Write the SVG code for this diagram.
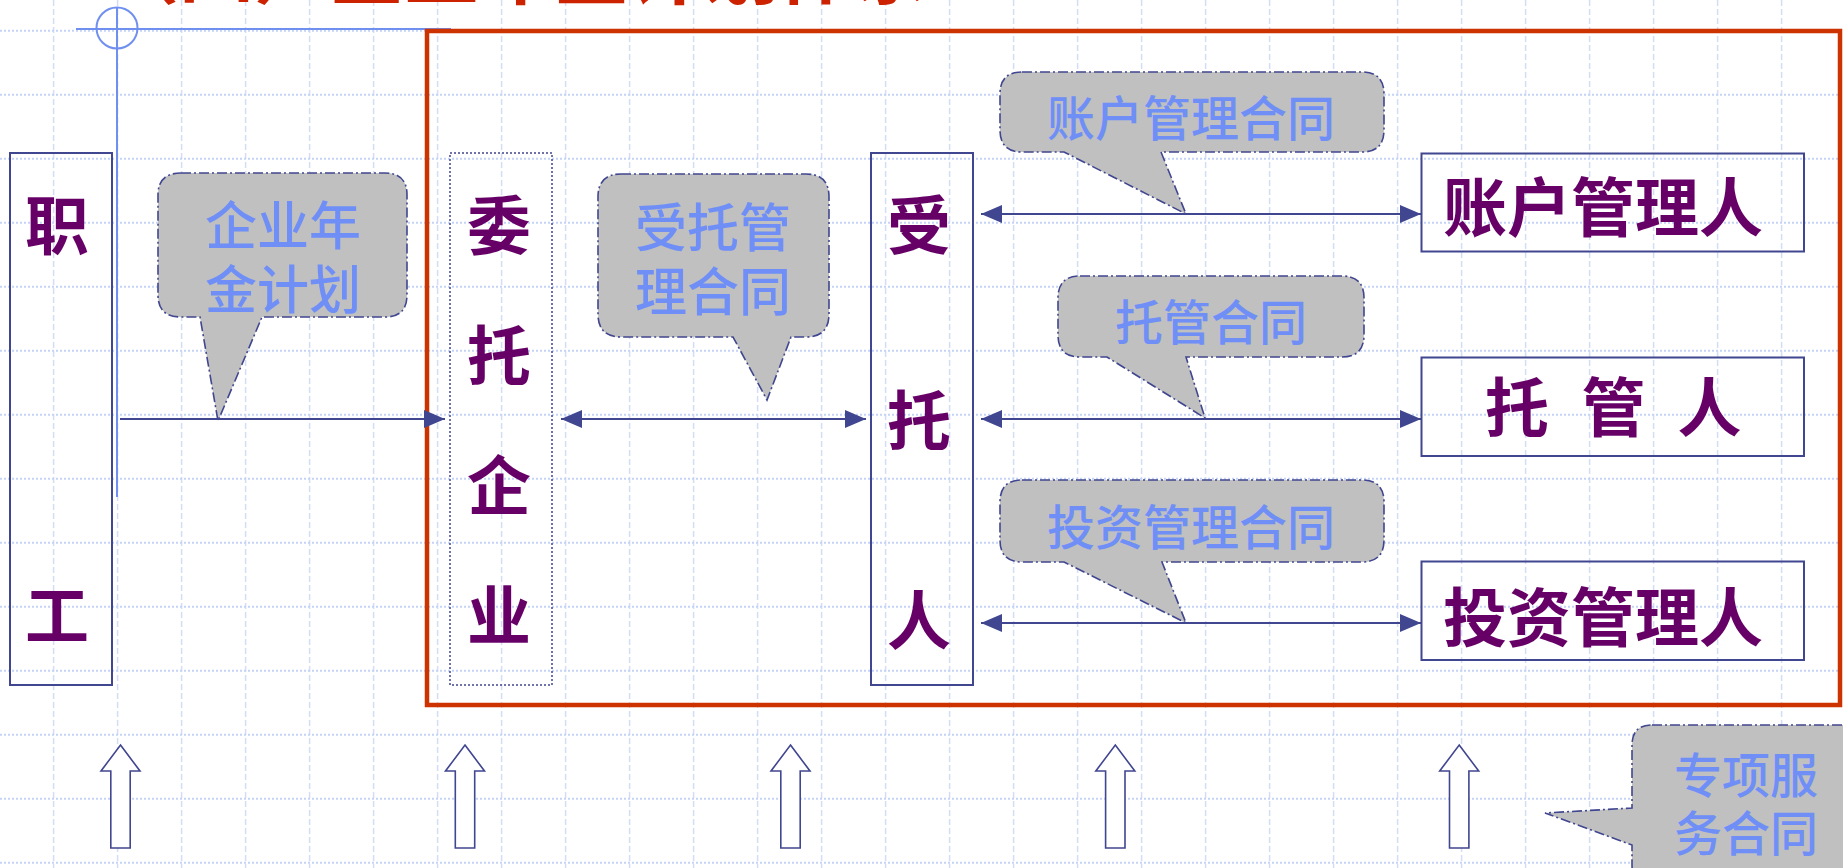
<svg xmlns="http://www.w3.org/2000/svg" width="1843" height="868" viewBox="0 0 1843 868">
<style>
.gv{stroke:#d3ddf8;stroke-width:1.5;stroke-dasharray:6 3;fill:none}
.gh{stroke:#c4d3f6;stroke-width:2;stroke-dasharray:2 2;fill:none}
.box{fill:none;stroke:#40468f;stroke-width:2}
.dot{fill:none;stroke:#40468f;stroke-width:1.5;stroke-dasharray:2 2}
.big{font-family:"Noto Sans CJK SC","Noto Sans CJK JP",sans-serif;font-weight:700;font-size:64px;fill:#660066;text-anchor:middle}
.bub{fill:#c0c0c0;stroke:#40468f;stroke-width:1.6;stroke-dasharray:10 3 2 3}
.bt{font-family:"Noto Sans CJK SC","Noto Sans CJK JP",sans-serif;font-weight:500;fill:#6f8ff7;text-anchor:middle}
.ln{stroke:#40468f;stroke-width:2;fill:none}
.up{fill:#ffffff;stroke:#40468f;stroke-width:1.6}
</style>
<defs>
<marker id="ah" markerUnits="userSpaceOnUse" markerWidth="22" markerHeight="20" refX="21" refY="9" orient="auto-start-reverse">
<path d="M0,0 L21,9 L0,18 Z" fill="#40468f"/>
</marker>
</defs>
<rect width="1843" height="868" fill="#ffffff"/>
<g id="grid">
<path class="gv" d="M53.6,0V868M117.6,0V868M181.6,0V868M245.6,0V868M309.6,0V868M373.6,0V868M437.6,0V868M501.6,0V868M565.6,0V868M629.6,0V868M693.6,0V868M757.6,0V868M821.6,0V868M885.6,0V868M949.6,0V868M1013.6,0V868M1077.6,0V868M1141.6,0V868M1205.6,0V868M1269.6,0V868M1333.6,0V868M1397.6,0V868M1461.6,0V868M1525.6,0V868M1589.6,0V868M1653.6,0V868M1717.6,0V868M1781.6,0V868"/>
<path class="gh" d="M0,30.7H1843M0,94.7H1843M0,158.7H1843M0,222.7H1843M0,286.7H1843M0,350.7H1843M0,414.7H1843M0,478.7H1843M0,542.7H1843M0,606.7H1843M0,670.7H1843M0,734.7H1843M0,798.7H1843M0,862.7H1843"/>
</g>
<text id="title" x="104" y="-2.5" font-family="'Noto Sans CJK SC',sans-serif" font-weight="700" font-size="75" fill="#cc2200">（四）企业年金计划体系</text>
<g id="crosshair" stroke="#7090f0" stroke-width="2" fill="none">
<line x1="117" y1="7" x2="117" y2="497"/>
<line x1="76" y1="29" x2="451" y2="29"/>
<circle cx="117" cy="28" r="20.5"/>
</g>
<rect id="frame" x="427" y="31" width="1413" height="674" fill="none" stroke="#cc3300" stroke-width="4.5"/>
<g id="employee">
<rect class="box" x="10" y="153" width="102" height="532"/>
<text class="big" x="57" y="249">职</text>
<text class="big" x="57" y="639">工</text>
</g>
<g id="enterprise">
<rect class="dot" x="450" y="153" width="102" height="532"/>
<text class="big" x="499" y="249">委</text>
<text class="big" x="499" y="379">托</text>
<text class="big" x="499" y="509">企</text>
<text class="big" x="499" y="639">业</text>
</g>
<g id="trustee">
<rect class="box" x="871" y="153" width="102" height="532"/>
<text class="big" x="919" y="249">受</text>
<text class="big" x="919" y="444">托</text>
<text class="big" x="919" y="644">人</text>
</g>
<g id="account-manager">
<rect class="box" x="1421.5" y="153.5" width="382.5" height="98"/>
<text class="big" x="1603" y="231">账户管理人</text>
</g>
<g id="custodian">
<rect class="box" x="1421.5" y="357.5" width="382.5" height="98.5"/>
<text class="big" x="1517" y="431">托</text>
<text class="big" x="1613.5" y="431">管</text>
<text class="big" x="1709.5" y="431">人</text>
</g>
<g id="investment-manager">
<rect class="box" x="1421.5" y="561.5" width="382.5" height="98.5"/>
<text class="big" x="1603" y="641">投资管理人</text>
</g>
<g id="bubble-plan">
<path class="bub" d="M181,173H385Q407,173 407,195V295Q407,317 385,317H262L218,421L200,317H181Q158,317 158,295V195Q158,173 181,173Z"/>
<text class="bt" font-size="52"><tspan x="283" y="245">企业年</tspan><tspan x="283" y="309">金计划</tspan></text>
</g>
<g id="bubble-trust">
<path class="bub" d="M621,174H806Q829,174 829,197V314Q829,337 806,337H791L767,400L733,337H621Q598,337 598,314V197Q598,174 621,174Z"/>
<text class="bt" font-size="52"><tspan x="713" y="246.5">受托管</tspan><tspan x="713" y="310.5">理合同</tspan></text>
</g>
<g id="bubble-account">
<path class="bub" d="M1022,72H1362Q1384,72 1384,94V130Q1384,152 1362,152H1161L1186,214L1064,152H1022Q1000,152 1000,130V94Q1000,72 1022,72Z"/>
<text class="bt" font-size="48" x="1191" y="136">账户管理合同</text>
</g>
<g id="bubble-custody">
<path class="bub" d="M1080,276H1342Q1364,276 1364,298V335Q1364,357 1342,357H1186L1205,418L1107,357H1080Q1058,357 1058,335V298Q1058,276 1080,276Z"/>
<text class="bt" font-size="48" x="1211" y="340">托管合同</text>
</g>
<g id="bubble-investment">
<path class="bub" d="M1022,480H1362Q1384,480 1384,502V540Q1384,562 1362,562H1162L1186,623L1064,562H1022Q1000,562 1000,540V502Q1000,480 1022,480Z"/>
<text class="bt" font-size="48" x="1191" y="545">投资管理合同</text>
</g>
<g id="bubble-service">
<path class="bub" d="M1652,725H1900V885H1652Q1632,885 1632,865V845L1545,813L1632,808V745Q1632,725 1652,725Z"/>
<text class="bt" font-size="48"><tspan x="1746" y="793">专项服</tspan><tspan x="1746" y="851">务合同</tspan></text>
</g>
<g id="connectors">
<line class="ln" x1="120" y1="419" x2="445" y2="419" marker-end="url(#ah)"/>
<line class="ln" x1="561" y1="419" x2="866" y2="419" marker-start="url(#ah)" marker-end="url(#ah)"/>
<line class="ln" x1="981" y1="214" x2="1421" y2="214" marker-start="url(#ah)" marker-end="url(#ah)"/>
<line class="ln" x1="981" y1="419" x2="1421" y2="419" marker-start="url(#ah)" marker-end="url(#ah)"/>
<line class="ln" x1="981" y1="623" x2="1421" y2="623" marker-start="url(#ah)" marker-end="url(#ah)"/>
</g>
<g id="up-arrows">
<path class="up" d="M120.5,745L140,771H130.2V848H110.8V771H101Z"/>
<path class="up" d="M465,745L484.5,771H474.7V848H455.3V771H445.5Z"/>
<path class="up" d="M790.5,745L810,771H800.2V848H780.8V771H771Z"/>
<path class="up" d="M1115.3,745L1134.8,771H1125V848H1105.6V771H1095.8Z"/>
<path class="up" d="M1459.2,745L1478.7,771H1468.9V848H1449.5V771H1439.7Z"/>
</g>
</svg>
